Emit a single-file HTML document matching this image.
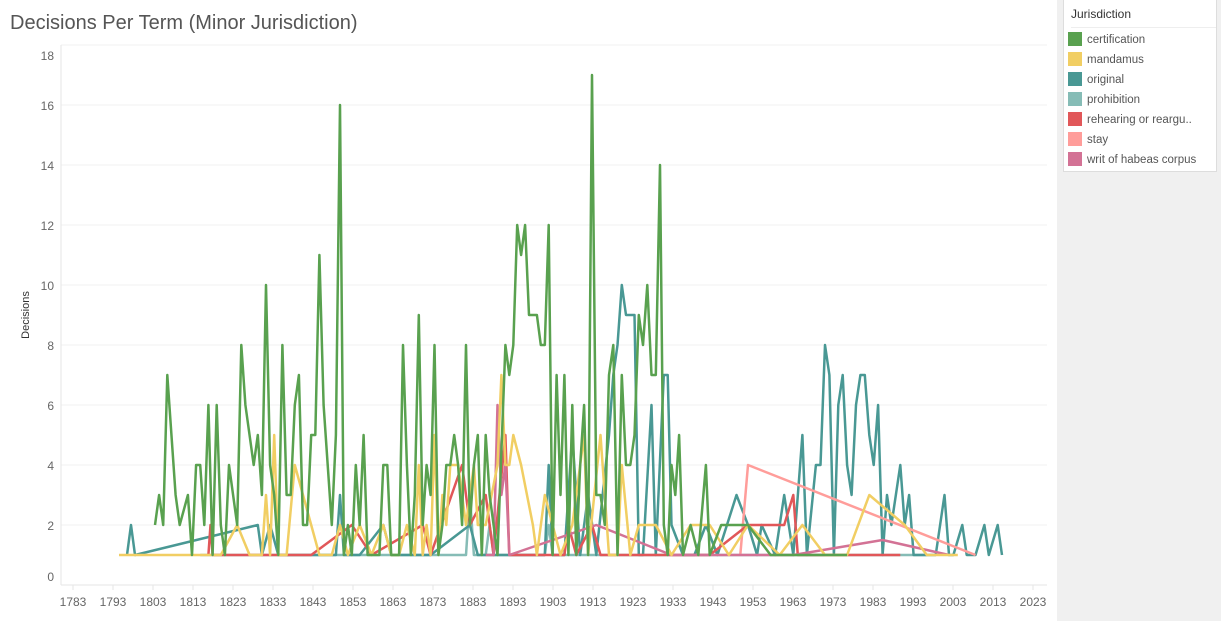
<!DOCTYPE html>
<html><head><meta charset="utf-8"><style>
body{margin:0;width:1221px;height:621px;overflow:hidden;background:#fff;font-family:"Liberation Sans",sans-serif}
#title{position:absolute;left:10px;top:12px;font-size:20px;color:#555}
#leg{position:absolute;left:1057px;top:0;width:164px;height:621px;background:#f0f0f0}
#lb{position:absolute;left:6px;top:0;width:152px;height:171px;background:#fff;border:1px solid #ddd;border-top:none}
.lh{font-size:12px;color:#333;margin:7px 0 0 7px;height:18px;border-bottom:1px solid #eee;padding-bottom:2px}
.li{font-size:11.5px;color:#555;height:20px;line-height:20px;margin-left:4px;white-space:nowrap}
.li span{display:inline-block;width:14px;height:14px;vertical-align:-3px;margin-right:5px}
</style></head><body>
<div id="title">Decisions Per Term (Minor Jurisdiction)</div>
<svg id="s" width="1057" height="621" style="position:absolute;left:0;top:0"></svg>
<div id="leg"><div id="lb"><div class="lh">Jurisdiction</div>
<div style="height:2px"></div>
<div class="li"><span style="background:#59a14f"></span>certification</div>
<div class="li"><span style="background:#f1ce63"></span>mandamus</div>
<div class="li"><span style="background:#499894"></span>original</div>
<div class="li"><span style="background:#86bcb6"></span>prohibition</div>
<div class="li"><span style="background:#e15759"></span>rehearing or reargu..</div>
<div class="li"><span style="background:#ff9d9a"></span>stay</div>
<div class="li"><span style="background:#d37295"></span>writ of habeas corpus</div>
</div></div>
<script>
const s=document.getElementById('s');const X=y=>73+(y-1783)*4, Y=v=>585-v*30;
const K=[[0,6],[149,155],[329,340],[585,592],[649,660],[741,748],[809,825],[968,1001],[1100,1135]];
function XD(y){const m=X(y);for(let i=0;i<K.length-1;i++){const a=K[i],b=K[i+1];if(m<=b[0]||i==K.length-2){return a[1]+(m-a[0])*(b[1]-a[1])/(b[0]-a[0]);}}}
let h='';
for(let v=0;v<=18;v+=2){h+=`<line x1="61" x2="1047" y1="${Y(v)}" y2="${Y(v)}" stroke="${v?'#f0f0f0':'#e6e6e6'}"/>`;
h+=`<text x="54" y="${v==18?60:Y(v)+(v?5:-4)}" text-anchor="end" font-size="12" fill="#666">${v}</text>`;}
h+=`<line x1="61" x2="61" y1="45" y2="585" stroke="#e6e6e6"/>`;
for(let y=1783;y<=2023;y+=10){h+=`<text x="${X(y)}" y="606" text-anchor="middle" font-size="12" fill="#666">${y}</text><line x1="${X(y)}" x2="${X(y)}" y1="585" y2="590" stroke="#e6e6e6"/>`;}
h+=`<text transform="translate(29,315) rotate(-90)" text-anchor="middle" font-size="11" fill="#333">Decisions</text>`;
function P(c,str){const a=str.trim().split(/[ ,]+/).map(Number);let p=[];for(let i=0;i<a.length;i+=2)p.push(XD(a[i]).toFixed(1)+','+Y(a[i+1]));h+=`<polyline points="${p.join(' ')}" fill="none" stroke="${c}" stroke-width="2.5" stroke-linejoin="round"/>`;}
P('#86bcb6','1813 1 1879 1 1880 3 1881 1 1884 1 1885 2 1886 1 1899 1 1900 2 1901 1 1990 1');
P('#499894','1795 1 1796 2 1797 1 1827 2 1828 1 1830 2 1832 1 1835 1 1846 1 1847 3 1848 1 1852 1 1858 2 1860 1 1870 1 1880 2 1882 1 1890 1 1899 1 1900 4 1901 1 1904 1 1906 5 1908 1 1910 3 1912 1 1915 5 1916 7 1917 8 1918 10 1919 9 1920 9 1921 9 1922 1 1923 1 1925 6 1926 1 1928 7 1929 7 1930 2 1933 1 1936 1 1939 2 1942 1 1947 3 1950 2 1952 1 1953 2 1956 1 1958 3 1960 1 1962 5 1963 1 1965 4 1966 4 1967 8 1968 7 1969 1 1970 6 1971 7 1972 4 1973 3 1974 6 1975 7 1976 7 1977 5 1978 4 1979 6 1980 1 1981 3 1982 2 1984 4 1985 2 1986 3 1987 1 1989 1 1992 1 1993 2 1994 3 1995 1 1996 1 1998 2 1999 1 2001 1 2003 2 2004 1 2006 2 2007 1');
P('#ff9d9a','1948 1 1950 4 2001 1');
P('#e15759','1815 1 1815.5 2 1816 1 1840 1 1850 2 1855 1 1868 2 1870 1 1878 4 1880 2 1884 3 1886 1 1889 5 1890 1 1904 1 1905 2 1907 1 1911 2 1913 1 1920 1 1940 1 1950 2 1958 2 1960 3 1961 1 1970 1 1984 1');
P('#d37295','1884 1 1886 1 1887 6 1888 3 1889 4 1890 1 1912 2 1930 1 1960 1 1980 1.5 1995 1');
P('#f1ce63','1793 1 1818 1 1822 2 1825 1 1828 1 1829 3 1830 1 1831 5 1832 1 1834 1 1836 4 1840 2 1842 1 1845 1 1847 2 1849 1 1852 2 1855 1 1858 2 1860 1 1862 1 1864 2 1866 1 1867 4 1868 1 1869 2 1870 1 1871 5 1872 1 1873 3 1874 2 1875 4 1877 4 1879 2 1881 4 1882 2 1884 2 1887 4 1888 7 1889 4 1890 4 1891 5 1893 4 1896 2 1897 1 1899 3 1901 2 1903 1 1906 2 1909 5 1910 1 1913 5 1915 1 1917 1 1918 4 1920 1 1922 2 1926 2 1930 1 1935 2 1940 2 1945 1 1950 2 1957 1 1962 2 1967 1 1972 1 1977 3 1985 2 1990 1 1997 1');
P('#59a14f','1802 2 1803 3 1804 2 1805 7 1807 3 1808 2 1810 3 1811 1 1812 4 1813 4 1814 2 1815 6 1816 1 1817 6 1818 2 1819 1 1820 4 1822 2 1823 8 1824 6 1826 4 1827 5 1828 3 1829 10 1830 4 1831 3 1832 1 1833 8 1834 3 1835 3 1836 6 1837 7 1838 2 1839 2 1840 5 1841 5 1842 11 1843 6 1844 4 1845 2 1846 5 1847 16 1848 1 1849 2 1850 1 1851 4 1852 2 1853 5 1854 1 1857 1 1858 4 1859 4 1860 1 1862 1 1863 8 1864 4 1865 1 1866 3 1867 9 1868 2 1869 4 1870 3 1871 8 1872 1 1873 2 1874 4 1875 4 1876 5 1877 4 1878 2 1879 8 1880 2 1881 4 1882 5 1883 1 1884 5 1885 3 1886 2 1887 1 1889 8 1890 7 1891 8 1892 12 1893 11 1894 12 1895 9 1896 9 1897 9 1898 8 1899 8 1900 12 1901 1 1902 7 1903 3 1904 7 1905 1 1906 6 1907 1 1908 4 1909 6 1910 1 1911 17 1912 3 1913 3 1914 2 1915 7 1916 8 1917 1 1918 7 1919 4 1920 4 1921 5 1922 9 1923 8 1924 10 1925 7 1926 7 1927 14 1928 2 1929 1 1930 4 1931 3 1932 5 1933 1 1935 2 1937 1 1939 4 1940 1 1943 2 1950 2 1955 1 1972 1');
s.innerHTML=h;
</script>
</body></html>
